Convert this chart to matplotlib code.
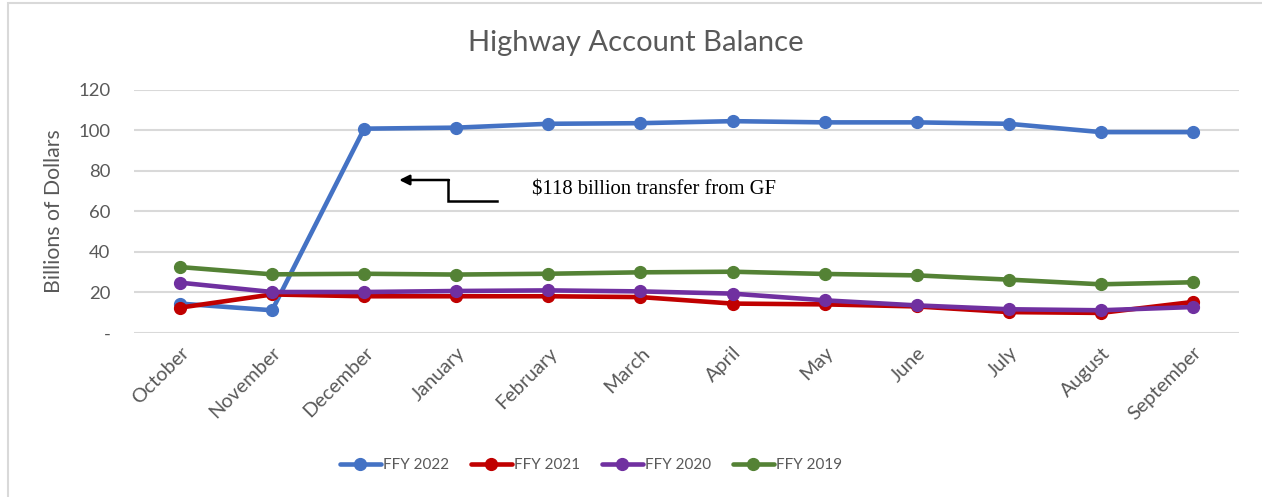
import matplotlib.pyplot as plt
import matplotlib.patches as patches

months = ['October', 'November', 'December', 'January', 'February', 'March',
          'April', 'May', 'June', 'July', 'August', 'September']
ffy2022 = [14.5, 11.2, 100.7, 101.2, 103.1, 103.4, 104.4, 103.8, 103.8, 103.1, 99.0, 99.0]
ffy2021 = [12.5, 19.0, 18.1, 18.1, 18.1, 17.7, 14.5, 14.1, 13.1, 10.3, 9.9, 15.3]
ffy2020 = [24.8, 20.2, 20.2, 20.7, 21.0, 20.5, 19.4, 16.1, 13.6, 11.7, 11.2, 12.8]
ffy2019 = [32.5, 28.9, 29.2, 28.8, 29.2, 29.9, 30.2, 29.1, 28.4, 26.3, 24.0, 25.0]
series = ['FFY 2022', 'FFY 2021', 'FFY 2020', 'FFY 2019']
colors = ['#4472C4', '#C00000', '#7030A0', '#548235']
yticks = [0, 20, 40, 60, 80, 100, 120]
yticklabels = ['-', '20', '40', '60', '80', '100', '120']

plt.rcParams['font.family'] = ['Lato', 'DejaVu Sans']
gray = '#595959'

fig = plt.figure(figsize=(12.62, 4.97), dpi=100)
# outer chart frame
fig.patches.append(patches.Rectangle((8/1262, -0.05), 1.1, 1 - 3/497 + 0.05,
                                     transform=fig.transFigure, fill=False,
                                     edgecolor='#d9d9d9', linewidth=1.5))

ax = fig.add_axes([134/1262, 1 - 333/497, 1105/1262, 243.5/497])
x = list(range(len(months)))
for vals, name, c in zip([ffy2022, ffy2021, ffy2020, ffy2019], series, colors):
    ax.plot(x, vals, color=c, linewidth=3.3, marker='o', markersize=8.5,
            label=name, solid_capstyle='round')

ax.set_xlim(-0.5, 11.5)
ax.set_ylim(0, 120)
ax.set_yticks(yticks)
ax.set_yticklabels(yticklabels)
ax.set_xticks(x)
ax.set_xticklabels(months, rotation=45, ha='right', rotation_mode='anchor')
ax.tick_params(axis='x', length=0, labelsize=14.3, colors=gray, pad=8)
ax.tick_params(axis='y', length=0, labelsize=13.3, colors=gray, pad=17)
for s in ax.spines.values():
    s.set_visible(False)
ax.grid(axis='y', color='#d9d9d9', linewidth=1.5)
ax.set_axisbelow(True)
ax.set_ylabel('Billions of Dollars', fontsize=15.3, color=gray, labelpad=10)

fig.text(636/1262, 1 - 43/497, 'Highway Account Balance', fontsize=21,
         color=gray, ha='center', va='center')

# annotation arrow
ax.plot([3.44, 2.91, 2.91], [65, 65, 75.4], color='black', linewidth=1.8,
        solid_joinstyle='miter')
ax.annotate('', xy=(2.38, 75.4), xytext=(2.92, 75.4),
            arrowprops=dict(arrowstyle='-|>,head_length=0.6,head_width=0.3',
                            color='black', linewidth=1.8, shrinkA=0, shrinkB=0))
ax.text(3.82, 70.4, '$118 billion transfer from GF', fontsize=14.9,
        family='Liberation Serif', va='center', ha='left', color='black')

leg = fig.legend(loc='center', bbox_to_anchor=(591/1262, 1 - 465/497), ncol=4,
                 frameon=False, fontsize=11, handlelength=2.7, handletextpad=0.15,
                 columnspacing=1.4)
for t in leg.get_texts():
    t.set_color(gray)

fig.savefig('out.png', dpi=100)
